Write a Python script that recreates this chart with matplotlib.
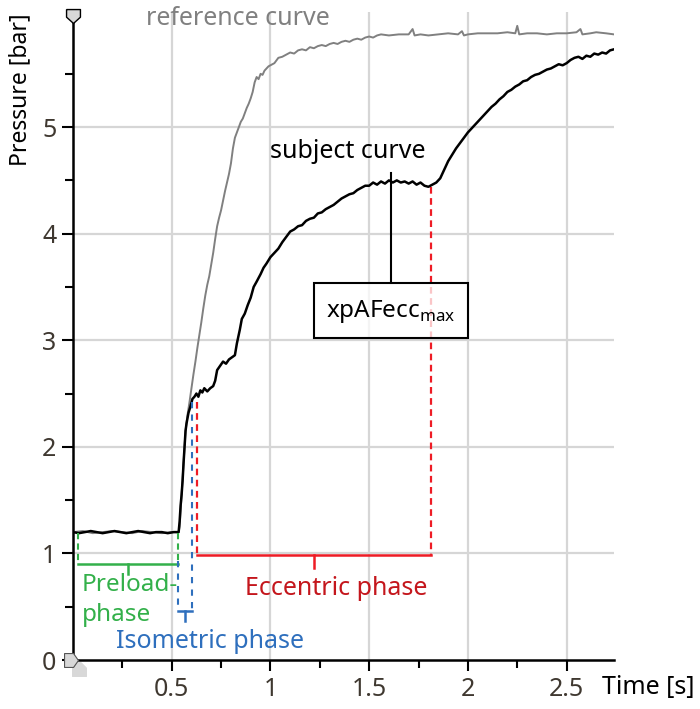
import matplotlib
matplotlib.use("Agg")
import matplotlib.pyplot as plt
from matplotlib.path import Path
import numpy as np

plt.rcParams['font.family'] = ['Noto Sans', 'DejaVu Sans']
plt.rcParams['mathtext.fontset'] = 'custom'
plt.rcParams['mathtext.rm'] = 'Noto Sans'

# ---------------- data ----------------
subj_t = [0.0, 0.03, 0.06, 0.09, 0.12, 0.15, 0.18, 0.21, 0.24, 0.27, 0.30, 0.33, 0.36, 0.39, 0.42,
          0.45, 0.48, 0.51, 0.535, 0.54, 0.545, 0.55, 0.555, 0.56, 0.565, 0.57, 0.575, 0.585, 0.595,
          0.605, 0.615, 0.625, 0.635, 0.645, 0.655, 0.665, 0.68, 0.695, 0.71, 0.72, 0.73, 0.745, 0.76,
          0.775, 0.79, 0.805, 0.82, 0.83, 0.845, 0.855, 0.87, 0.885, 0.9, 0.915, 0.93, 0.95, 0.965,
          0.98, 1.0, 1.02, 1.04, 1.06, 1.08, 1.1, 1.12, 1.14, 1.16, 1.18, 1.2, 1.22, 1.24, 1.26, 1.28,
          1.3, 1.32, 1.34, 1.36, 1.38, 1.4, 1.42, 1.44, 1.46, 1.48, 1.5, 1.52, 1.54, 1.56, 1.58, 1.6,
          1.62, 1.64, 1.66, 1.68, 1.7, 1.72, 1.74, 1.76, 1.78, 1.8, 1.82, 1.84, 1.86, 1.88, 1.9, 1.92,
          1.94, 1.96, 1.98, 2.0, 2.02, 2.04, 2.06, 2.08, 2.1, 2.12, 2.14, 2.16, 2.18, 2.2, 2.22, 2.24,
          2.26, 2.28, 2.3, 2.32, 2.34, 2.36, 2.38, 2.4, 2.42, 2.44, 2.46, 2.48, 2.5, 2.52, 2.54, 2.56,
          2.58, 2.6, 2.62, 2.64, 2.66, 2.68, 2.7, 2.72, 2.74]
subj_p = [1.2, 1.19, 1.2, 1.21, 1.2, 1.19, 1.2, 1.21, 1.2, 1.19, 1.2, 1.21, 1.2, 1.19, 1.2,
          1.2, 1.19, 1.2, 1.2, 1.3, 1.45, 1.55, 1.68, 1.85, 2.0, 2.15, 2.22, 2.32, 2.38,
          2.45, 2.47, 2.5, 2.47, 2.53, 2.51, 2.55, 2.52, 2.55, 2.57, 2.62, 2.72, 2.76, 2.8,
          2.78, 2.82, 2.84, 2.86, 2.97, 3.1, 3.2, 3.25, 3.33, 3.4, 3.5, 3.55, 3.62, 3.68,
          3.72, 3.78, 3.82, 3.86, 3.92, 3.97, 4.02, 4.04, 4.07, 4.08, 4.12, 4.14, 4.15, 4.19, 4.2, 4.23,
          4.25, 4.27, 4.3, 4.33, 4.35, 4.37, 4.38, 4.41, 4.43, 4.45, 4.45, 4.48, 4.46, 4.49, 4.47, 4.5,
          4.48, 4.5, 4.48, 4.49, 4.47, 4.49, 4.46, 4.48, 4.45, 4.44, 4.46, 4.48, 4.52, 4.6, 4.68, 4.74,
          4.8, 4.85, 4.9, 4.95, 4.99, 5.03, 5.07, 5.11, 5.15, 5.19, 5.22, 5.26, 5.29, 5.33, 5.35, 5.38,
          5.4, 5.43, 5.44, 5.47, 5.49, 5.5, 5.52, 5.54, 5.55, 5.57, 5.59, 5.58, 5.6, 5.63, 5.65, 5.66,
          5.64, 5.67, 5.66, 5.69, 5.68, 5.7, 5.69, 5.72, 5.73]

ref_t = [0.0, 0.05, 0.1, 0.15, 0.2, 0.25, 0.3, 0.35, 0.4, 0.45, 0.5, 0.535, 0.54, 0.545, 0.55, 0.555,
         0.56, 0.565, 0.57, 0.58, 0.59, 0.60, 0.61, 0.62, 0.63, 0.64, 0.65, 0.66, 0.67, 0.68, 0.69,
         0.70, 0.71, 0.72, 0.73, 0.74, 0.75, 0.76, 0.77, 0.78, 0.79, 0.80, 0.81, 0.82, 0.83, 0.84,
         0.85, 0.86, 0.87, 0.88, 0.89, 0.90, 0.91, 0.92, 0.93, 0.94, 0.95, 0.96, 0.97, 0.98, 0.99,
         1.0, 1.02, 1.04, 1.06, 1.08, 1.1, 1.12, 1.14, 1.16, 1.18, 1.2, 1.22, 1.24, 1.26, 1.28, 1.3,
         1.32, 1.34, 1.36, 1.38, 1.4, 1.42, 1.44, 1.46, 1.48, 1.5, 1.52, 1.54, 1.56, 1.6, 1.65, 1.7,
         1.72, 1.73, 1.76, 1.8, 1.85, 1.9, 1.95, 1.97, 1.98, 2.0, 2.05, 2.1, 2.15, 2.2, 2.24, 2.25,
         2.26, 2.3, 2.35, 2.4, 2.45, 2.5, 2.55, 2.57, 2.58, 2.62, 2.65, 2.7, 2.74]
ref_p = [1.2, 1.21, 1.19, 1.2, 1.21, 1.2, 1.19, 1.21, 1.2, 1.19, 1.2, 1.2, 1.25, 1.4, 1.55, 1.7,
         1.85, 2.0, 2.15, 2.3, 2.42, 2.55, 2.68, 2.8, 2.93, 3.05, 3.17, 3.3, 3.42, 3.52, 3.6,
         3.71, 3.82, 3.95, 4.07, 4.15, 4.22, 4.31, 4.4, 4.48, 4.56, 4.66, 4.8, 4.9, 4.95, 5.0,
         5.05, 5.08, 5.13, 5.18, 5.22, 5.27, 5.33, 5.42, 5.47, 5.45, 5.5, 5.49, 5.53, 5.55, 5.57,
         5.58, 5.6, 5.65, 5.66, 5.68, 5.7, 5.69, 5.72, 5.73, 5.72, 5.75, 5.74, 5.76, 5.77, 5.76, 5.78,
         5.79, 5.78, 5.8, 5.81, 5.8, 5.82, 5.83, 5.82, 5.84, 5.85, 5.84, 5.86, 5.87, 5.86, 5.87, 5.87,
         5.92, 5.86, 5.87, 5.86, 5.87, 5.88, 5.87, 5.9, 5.86, 5.87, 5.88, 5.88, 5.88, 5.89, 5.88, 5.95,
         5.87, 5.88, 5.88, 5.87, 5.88, 5.88, 5.89, 5.92, 5.87, 5.88, 5.89, 5.88, 5.87]

x_ticks = [0.5, 1, 1.5, 2, 2.5]
x_tick_labels = ["0.5", "1", "1.5", "2", "2.5"]
y_ticks = [0, 1, 2, 3, 4, 5]
y_tick_labels = ["0", "1", "2", "3", "4", "5"]

# phase boundaries (s) and annotation values
preload_span = [0.025, 0.53]
iso_span = [0.53, 0.605]
ecc_span = [0.63, 1.815]
xpafecc_t = 1.61
xpafecc_p = 4.57

FS = 18

# ---------------- figure ----------------
fig = plt.figure(figsize=(7.0, 7.09), dpi=100)
ax = fig.add_axes([73/700, 1-660/709, (614-73)/700, (660-12)/709])
ax.set_xlim(0, 2.74)
ax.set_ylim(0, 6.08)

for s in ['top', 'right']:
    ax.spines[s].set_visible(False)
for s in ['left', 'bottom']:
    ax.spines[s].set_linewidth(1.8)
    ax.spines[s].set_color('black')

ax.set_xticks(x_ticks)
ax.set_xticklabels(x_tick_labels)
ax.set_yticks(y_ticks)
ax.set_yticklabels(y_tick_labels)
ax.set_xticks(np.arange(0.25, 2.74, 0.5), minor=True)
ax.set_yticks(np.arange(0.5, 6.0, 1.0), minor=True)
ax.tick_params(axis='both', which='major', direction='out', length=8, width=1.5,
               labelsize=FS, labelcolor='#3f3830', pad=4)
ax.tick_params(axis='both', which='minor', direction='out', length=6, width=1.5)

for xv in x_ticks:
    ax.axvline(xv, color='#d6d6d6', lw=1.6, zorder=0)
for yv in y_ticks[1:]:
    ax.axhline(yv, color='#d6d6d6', lw=1.6, zorder=0)

ax.plot(ref_t, ref_p, color='#808080', lw=1.4, zorder=3)
ax.plot(subj_t, subj_p, color='black', lw=1.8, zorder=4)

# axis end markers
top_marker = Path([(-1, 1), (1, 1), (1, -0.1), (0, -1), (-1, -0.1), (-1, 1)])
ax.plot([0], [6.04], marker=top_marker, ms=10, mfc='#d8d8d8', mec='black', mew=1.0,
        clip_on=False, zorder=6)
ax.plot([0.03], [-0.08], marker=Path([(-1, 1), (0.2, 1), (1, 0.2), (1, -1), (-1, -1), (-1, 1)]),
        ms=10, mfc='#d8d8d8', mec='#d8d8d8', mew=0.8, clip_on=False, zorder=5)
ax.plot([-0.01], [0.0], marker=Path([(-1, 1), (0.3, 1), (1, 0), (0.3, -1), (-1, -1), (-1, 1)]),
        ms=10, mfc='#d8d8d8', mec='#555555', mew=0.8, clip_on=False, zorder=6)

# ---------------- phase brackets ----------------
green = '#33b04a'
blue = '#2e6fbd'
red_line = '#ee1c25'
red_text = '#c4161c'

# preload bracket
gy_top, gy_bot, gy_tick = 1.19, 0.90, 0.81
ax.plot([preload_span[0]]*2, [gy_top, gy_bot], color=green, lw=1.5, ls=(0, (3, 2)), zorder=5)
ax.plot([preload_span[1]]*2, [gy_top, gy_bot], color=green, lw=1.5, ls=(0, (3, 2)), zorder=5)
ax.plot(preload_span, [gy_bot, gy_bot], color=green, lw=1.8, zorder=5)
gm = (preload_span[0] + preload_span[1]) / 2
ax.plot([gm, gm], [gy_bot, gy_tick], color=green, lw=1.8, zorder=5)

# isometric bracket
by_bot, by_tick = 0.46, 0.37
ax.plot([iso_span[0]]*2, [0.93, by_bot], color=blue, lw=1.5, ls=(0, (3, 3)), zorder=5)
ax.plot([iso_span[1]]*2, [2.42, by_bot], color=blue, lw=1.5, ls=(0, (3, 3)), zorder=5)
ax.plot(iso_span, [by_bot, by_bot], color=blue, lw=1.8, zorder=5)
bm = (iso_span[0] + iso_span[1]) / 2
ax.plot([bm, bm], [by_bot, by_tick], color=blue, lw=1.8, zorder=5)

# eccentric bracket
ry_bot, ry_tick = 0.985, 0.86
ax.plot([ecc_span[0]]*2, [2.42, ry_bot], color=red_line, lw=1.6, ls=(0, (3, 2)), zorder=5)
ax.plot([ecc_span[1]]*2, [4.44, ry_bot], color=red_line, lw=1.6, ls=(0, (3, 2)), zorder=2)
ax.plot(ecc_span, [ry_bot, ry_bot], color=red_line, lw=1.8, zorder=5)
rm = (ecc_span[0] + ecc_span[1]) / 2
ax.plot([rm, rm], [ry_bot, ry_tick], color=red_line, lw=1.8, zorder=5)

# ---------------- texts ----------------
ax.text(0.045, 0.70, "Preload-", color=green, fontsize=17.5, ha='left', va='center', zorder=8)
ax.text(0.045, 0.42, "phase", color=green, fontsize=17.5, ha='left', va='center', zorder=8)
ax.text(0.22, 0.17, "Isometric phase", color=blue, fontsize=FS, ha='left', va='center', zorder=8)
ax.text(1.335, 0.675, "Eccentric phase", color=red_text, fontsize=FS, ha='center', va='center', zorder=8)
ax.text(0.835, 6.02, "reference curve", color='#808080', fontsize=FS, ha='center', va='center')
ax.text(1.39, 4.77, "subject curve", color='black', fontsize=FS, ha='center', va='center')

# xpAFecc_max box
ax.plot([xpafecc_t, xpafecc_t], [xpafecc_p, 3.54], color='black', lw=1.5, zorder=6)
ax.add_patch(plt.Rectangle((1.22, 3.02), 0.78, 0.52, facecolor=(1, 1, 1, 0.75),
                           edgecolor='black', lw=1.5, zorder=6))
ax.text(1.61, 3.27, r"xpAFecc$_\mathregular{max}$", color='black', fontsize=17.5,
        ha='center', va='center', zorder=7)

# axis labels
fig.text(20/700, 1-90/709, "Pressure [bar]", rotation=90, fontsize=16.5, ha='center',
         va='center', color='black')
fig.text(602/700, 1-688/709, "Time [s]", fontsize=FS, ha='left', va='center', color='black')

fig.savefig("out.png", dpi=100)
